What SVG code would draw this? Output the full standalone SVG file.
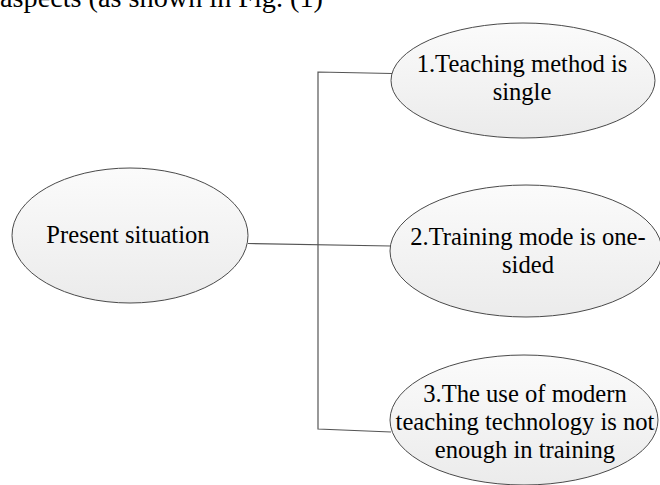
<svg xmlns="http://www.w3.org/2000/svg" width="660" height="485" viewBox="0 0 660 485">
<defs>
<linearGradient id="g" x1="0" y1="0" x2="0" y2="1">
<stop offset="0" stop-color="#fbfbfb"/>
<stop offset="1" stop-color="#ebebeb"/>
</linearGradient>
<style>
.n{fill:url(#g);stroke:#4a4a4a;stroke-width:1}
.t{font-size:24.6px;fill:#000;text-anchor:middle}
.c{fill:none;stroke:#555;stroke-width:1.2}
</style>
</defs>
<rect width="660" height="485" fill="#fff"/>
<g font-family="'Liberation Serif', 'Times New Roman', serif">
<text x="0" y="7" font-size="28" textLength="323" lengthAdjust="spacingAndGlyphs">aspects (as shown in Fig. (1)</text>
<g id="connectors">
<path class="c" d="M248,243.5 L391,246"/>
<path class="c" d="M392,73.5 L318,72 L318,429 L391,432"/>
</g>
<g id="root">
<ellipse class="n" cx="130" cy="235.5" rx="118" ry="67.5"/>
<text class="t" x="128" y="243">Present situation</text>
</g>
<g id="n1">
<ellipse class="n" cx="523" cy="80.5" rx="132" ry="57.5"/>
<text class="t" x="522" y="72">1.Teaching method is</text>
<text class="t" x="522" y="99.5">single</text>
</g>
<g id="n2">
<ellipse class="n" cx="526" cy="251" rx="136" ry="66"/>
<text class="t" x="528" y="245">2.Training mode is one-</text>
<text class="t" x="528" y="272.5">sided</text>
</g>
<g id="n3">
<ellipse class="n" cx="524" cy="420" rx="134" ry="65"/>
<text class="t" x="525" y="402">3.The use of modern</text>
<text class="t" x="525" y="430">teaching technology is not</text>
<text class="t" x="525" y="458">enough in training</text>
</g>
</g>
</svg>
